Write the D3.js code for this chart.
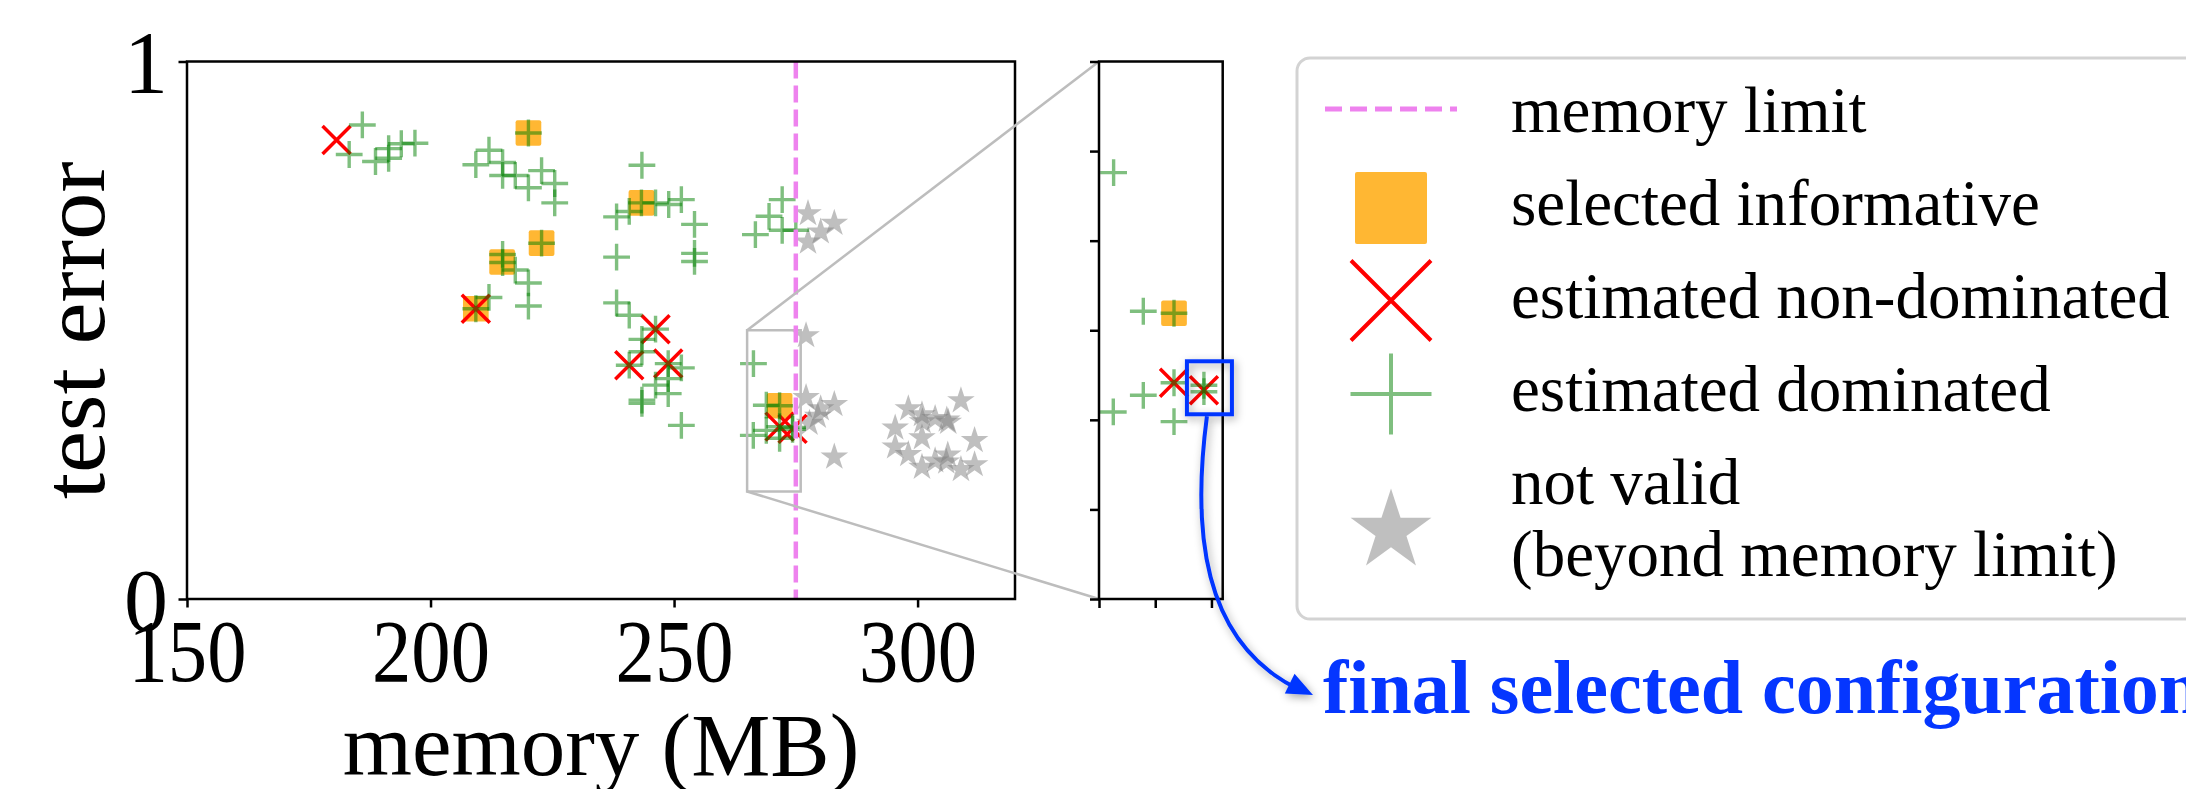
<!DOCTYPE html>
<html>
<head>
<meta charset="utf-8">
<script src="https://cdn.jsdelivr.net/npm/d3@7"></script>
<style>
  html, body { margin: 0; padding: 0; background: #fff; overflow: hidden; }
  svg { display: block; }
  text { font-family: "Liberation Serif", "Times New Roman", serif; fill: #000; }
</style>
</head>
<body>
<svg id="chart" width="2186" height="789"></svg>
<script>
// ---------------- data ----------------
const xTicks = [150, 200, 250, 300];
const yTicks = [0, 1];
const insetXTicks = [265, 270, 275];
const insetYTicks = [0.2, 0.25, 0.3, 0.35, 0.4, 0.45, 0.5];
const memDomain = [150, 320];
const errDomain = [0, 1];
const memoryLimit = 275;
const zoomMem = [265, 276];
const zoomErr = [0.2, 0.5];
const finalConfig = [274.33, 0.3165];

// [memory (MB), test error]
const informative = [
  [220.1, 0.867], [222.8, 0.662], [214.7, 0.627], [209.3, 0.540],
  [243.3, 0.737], [271.67, 0.3595]
];
const nonDominated = [
  [180.7, 0.854], [209.3, 0.540], [246.2, 0.502], [240.8, 0.435],
  [248.8, 0.438], [271.67, 0.3207], [274.33, 0.3165]
];
const dominated = [
  [186.0, 0.882], [183.3, 0.827], [188.7, 0.814], [191.4, 0.838], [191.4, 0.820],
  [194.0, 0.847], [196.8, 0.848],
  [220.1, 0.867], [209.3, 0.808], [212.0, 0.835], [214.8, 0.812], [214.8, 0.788],
  [217.4, 0.788], [220.1, 0.765], [222.8, 0.797], [225.5, 0.773], [225.5, 0.737],
  [222.8, 0.662], [214.8, 0.641], [214.8, 0.626], [217.4, 0.612], [220.1, 0.588],
  [220.1, 0.545], [209.3, 0.540], [212.0, 0.561],
  [243.4, 0.807], [243.3, 0.737], [238.2, 0.711], [240.8, 0.721], [246.2, 0.737],
  [248.9, 0.734], [251.5, 0.743], [254.2, 0.697], [254.2, 0.643], [254.2, 0.628],
  [238.2, 0.636],
  [238.2, 0.551], [240.8, 0.528], [246.2, 0.502], [243.4, 0.483], [240.8, 0.435],
  [243.4, 0.460], [248.8, 0.438], [251.5, 0.430], [248.8, 0.410], [248.8, 0.382],
  [246.2, 0.398], [243.4, 0.370], [243.4, 0.364], [251.5, 0.323],
  [272.2, 0.743], [269.5, 0.712], [266.7, 0.678], [272.2, 0.686], [275.0, 0.686],
  [266.3, 0.438],
  [266.27, 0.3044], [268.94, 0.3137], [268.94, 0.3606], [271.67, 0.3595],
  [271.67, 0.3207], [274.33, 0.3193], [274.33, 0.3157], [271.67, 0.299]
];
const notValid = [
  [277.5, 0.717], [282.9, 0.699], [280.1, 0.683], [277.5, 0.664], [277.1, 0.490],
  [277.1, 0.375], [280.1, 0.354], [282.9, 0.362], [277.8, 0.327], [279.5, 0.340],
  [282.9, 0.264],
  [298.1, 0.354], [300.9, 0.343], [303.6, 0.336], [306.3, 0.329], [306.0, 0.333],
  [308.9, 0.369], [295.4, 0.318], [300.9, 0.300], [295.4, 0.283], [298.1, 0.269],
  [311.7, 0.295], [300.9, 0.245], [303.6, 0.257], [306.2, 0.268], [308.9, 0.241],
  [311.7, 0.250], [305.9, 0.255], [301.0, 0.330]
];
const legendLabels = [
  ["memory limit"],
  ["selected informative"],
  ["estimated non-dominated"],
  ["estimated dominated"],
  ["not valid", "(beyond memory limit)"]
];
const xLabel = "memory (MB)";
const yLabel = "test error";
const calloutText = "final selected configuration";

// ---------------- styles ----------------
const C = {
  green: "rgba(0,128,0,0.5)",
  red: "#ff0000",
  orange: "rgba(255,165,0,0.8)",
  gray: "rgba(128,128,128,0.5)",
  violet: "#ee82ee",
  blue: "#0536ff",
  zoomLine: "#bdbdbd"
};

// ---------------- layout ----------------
const main = { left: 187, right: 1015, top: 61.5, bottom: 599 };
const inset = { left: 1099, right: 1222.7, top: 61.5, bottom: 599 };

const svg = d3.select("#chart");
const defs = svg.append("defs");

const shadow = defs.append("filter").attr("id", "shadow")
  .attr("x", "-50%").attr("y", "-50%").attr("width", "200%").attr("height", "200%");
shadow.append("feDropShadow").attr("dx", 2).attr("dy", 3)
  .attr("stdDeviation", 4).attr("flood-color", "#000").attr("flood-opacity", 0.35);

defs.append("clipPath").attr("id", "clipMain").append("rect")
  .attr("x", main.left).attr("y", main.top)
  .attr("width", main.right - main.left).attr("height", main.bottom - main.top);
defs.append("clipPath").attr("id", "clipInset").append("rect")
  .attr("x", inset.left).attr("y", inset.top)
  .attr("width", inset.right - inset.left).attr("height", inset.bottom - inset.top);

const x = d3.scaleLinear().domain(memDomain).range([main.left, main.right]);
const y = d3.scaleLinear().domain(errDomain).range([main.bottom, main.top]);
const xi = d3.scaleLinear().domain(zoomMem).range([inset.left, inset.right]);
const yi = d3.scaleLinear().domain(zoomErr).range([inset.bottom, inset.top]);

// marker shapes
function plusPath(h) { return `M${-h},0H${h}M0,${-h}V${h}`; }
function crossPath(h) { return `M${-h},${-h}L${h},${h}M${-h},${h}L${h},${-h}`; }
function starPath(R) {
  const r = R * 0.381966;
  const pts = [];
  for (let k = 0; k < 10; k++) {
    const a = -Math.PI / 2 + k * Math.PI / 5;
    const rr = k % 2 === 0 ? R : r;
    pts.push([rr * Math.cos(a), rr * Math.sin(a)]);
  }
  return "M" + pts.map(p => p[0].toFixed(2) + "," + p[1].toFixed(2)).join("L") + "Z";
}

function drawMarks(g, sx, sy) {
  g.append("g").selectAll("path").data(notValid).join("path")
    .attr("d", starPath(14.5))
    .attr("transform", d => `translate(${sx(d[0])},${sy(d[1])})`)
    .attr("fill", C.gray);
  const sq = 25.7;
  g.append("g").selectAll("rect").data(informative).join("rect")
    .attr("x", d => sx(d[0]) - sq / 2).attr("y", d => sy(d[1]) - sq / 2)
    .attr("width", sq).attr("height", sq).attr("rx", 2)
    .attr("fill", C.orange);
  g.append("g").selectAll("path").data(nonDominated).join("path")
    .attr("d", crossPath(14))
    .attr("transform", d => `translate(${sx(d[0])},${sy(d[1])})`)
    .attr("fill", "none").attr("stroke", C.red).attr("stroke-width", 3.5);
  g.append("g").selectAll("path").data(dominated).join("path")
    .attr("d", plusPath(13.4))
    .attr("transform", d => `translate(${sx(d[0])},${sy(d[1])})`)
    .attr("fill", "none").attr("stroke", C.green).attr("stroke-width", 3.4);
}

// ---------------- main axes ----------------
const gMain = svg.append("g");
const mainMarks = gMain.append("g").attr("clip-path", "url(#clipMain)");
drawMarks(mainMarks, x, y);

// zoom indicator and connectors
const zr = { x0: x(zoomMem[0]), x1: x(zoomMem[1]), y0: y(zoomErr[1]), y1: y(zoomErr[0]) };
svg.append("line").attr("x1", zr.x0).attr("y1", zr.y0).attr("x2", inset.left).attr("y2", inset.top)
  .attr("stroke", C.zoomLine).attr("stroke-width", 2.5);
svg.append("line").attr("x1", zr.x0).attr("y1", zr.y1).attr("x2", inset.left).attr("y2", inset.bottom)
  .attr("stroke", C.zoomLine).attr("stroke-width", 2.5);
gMain.append("rect").attr("x", zr.x0).attr("y", zr.y0)
  .attr("width", zr.x1 - zr.x0).attr("height", zr.y1 - zr.y0)
  .attr("fill", "none").attr("stroke", C.zoomLine).attr("stroke-width", 2.5);

// memory limit
gMain.append("line")
  .attr("x1", x(memoryLimit)).attr("x2", x(memoryLimit))
  .attr("y1", main.top).attr("y2", main.bottom)
  .attr("stroke", C.violet).attr("stroke-width", 4.5).attr("stroke-dasharray", "17,7");

// frame
gMain.append("rect").attr("x", main.left).attr("y", main.top)
  .attr("width", main.right - main.left).attr("height", main.bottom - main.top)
  .attr("fill", "none").attr("stroke", "#000").attr("stroke-width", 2.5);

// axes
const xAxis = gMain.append("g").attr("transform", `translate(0,${main.bottom})`)
  .call(d3.axisBottom(x).tickValues(xTicks).tickFormat(d3.format("d")).tickSize(8.5).tickSizeOuter(0));
const yAxis = gMain.append("g").attr("transform", `translate(${main.left},0)`)
  .call(d3.axisLeft(y).tickValues(yTicks).tickFormat(d3.format("d")).tickSize(8.5).tickSizeOuter(0));
[xAxis, yAxis].forEach(a => {
  a.select(".domain").remove();
  a.selectAll(".tick line").attr("stroke", "#000").attr("stroke-width", 2.5);
  a.selectAll("text").attr("font-family", '"Liberation Serif", serif').attr("fill", "#000");
});
xAxis.selectAll("text").attr("dy", null).attr("y", 82).attr("font-size", 88)
  .attr("textLength", 118).attr("lengthAdjust", "spacingAndGlyphs");
yAxis.selectAll("text").attr("dy", null).attr("x", -19).attr("y", 30).attr("font-size", 88)
  .attr("text-anchor", "end");

svg.append("text").attr("x", (main.left + main.right) / 2).attr("y", 775)
  .attr("text-anchor", "middle").attr("font-size", 89).text(xLabel);
svg.append("text").attr("transform", `translate(104,${(main.top + main.bottom) / 2}) rotate(-90)`)
  .attr("text-anchor", "middle").attr("font-size", 89)
  .attr("textLength", 338).attr("lengthAdjust", "spacingAndGlyphs").text(yLabel);

// ---------------- inset axes ----------------
const gInset = svg.append("g");
const insetMarks = gInset.append("g").attr("clip-path", "url(#clipInset)");
drawMarks(insetMarks, xi, yi);
gInset.append("rect").attr("x", inset.left).attr("y", inset.top)
  .attr("width", inset.right - inset.left).attr("height", inset.bottom - inset.top)
  .attr("fill", "none").attr("stroke", "#000").attr("stroke-width", 2.5);
const xiAxis = gInset.append("g").attr("transform", `translate(0,${inset.bottom})`)
  .call(d3.axisBottom(xi).tickValues(insetXTicks).tickFormat("").tickSize(9).tickSizeOuter(0));
const yiAxis = gInset.append("g").attr("transform", `translate(${inset.left},0)`)
  .call(d3.axisLeft(yi).tickValues(insetYTicks).tickFormat("").tickSize(9).tickSizeOuter(0));
[xiAxis, yiAxis].forEach(a => {
  a.select(".domain").remove();
  a.selectAll(".tick line").attr("stroke", "#000").attr("stroke-width", 2.5);
});

// ---------------- callout ----------------
const fx = xi(finalConfig[0]), fy = yi(finalConfig[1]);
svg.append("rect").attr("x", fx - 17).attr("y", fy - 29).attr("width", 45).attr("height", 53)
  .attr("fill", "none").attr("stroke", C.blue).attr("stroke-width", 4).attr("filter", "url(#shadow)");

const a0 = [fx + 3, fy + 26], c1 = [fx - 12, fy + 140], c2 = [fx - 2, fy + 250], a1 = [1296, 688];
const tip = [1313, 695];
const gArrow = svg.append("g").attr("filter", "url(#shadow)");
gArrow.append("path")
  .attr("d", `M${a0}C${c1} ${c2} ${a1}`)
  .attr("fill", "none").attr("stroke", C.blue).attr("stroke-width", 4);
{
  const dx = tip[0] - c2[0], dy = tip[1] - c2[1];
  const L = Math.hypot(dx, dy), ux = dx / L, uy = dy / L;
  const hl = 26, hw = 11;
  const bx = tip[0] - ux * hl, by = tip[1] - uy * hl;
  gArrow.append("path")
    .attr("d", `M${tip}L${bx - uy * hw},${by + ux * hw}L${bx + uy * hw},${by - ux * hw}Z`)
    .attr("fill", C.blue);
}
svg.append("text").attr("x", 1323).attr("y", 713)
  .attr("font-size", 76).attr("font-weight", "bold").attr("fill", C.blue)
  .style("fill", C.blue).text(calloutText);

// ---------------- legend ----------------
const lg = svg.append("g");
lg.append("rect").attr("x", 1297).attr("y", 58).attr("width", 1000).attr("height", 561)
  .attr("rx", 13).attr("fill", "#fff").attr("stroke", "#d3d3d3").attr("stroke-width", 3);
const symX = 1391, textX = 1511;
const symY = [109, 208, 300.5, 394, 527];
const baseY = [132, 225, 317.5, 410.5, [504, 576]];
lg.append("line").attr("x1", 1325).attr("x2", 1457).attr("y1", symY[0]).attr("y2", symY[0])
  .attr("stroke", C.violet).attr("stroke-width", 5).attr("stroke-dasharray", "17,8");
lg.append("rect").attr("x", symX - 36).attr("y", symY[1] - 36).attr("width", 72).attr("height", 72)
  .attr("rx", 2).attr("fill", C.orange);
lg.append("path").attr("d", crossPath(40)).attr("transform", `translate(${symX},${symY[2]})`)
  .attr("stroke", C.red).attr("stroke-width", 4).attr("fill", "none");
lg.append("path").attr("d", plusPath(40.5)).attr("transform", `translate(${symX},${symY[3]})`)
  .attr("stroke", C.green).attr("stroke-width", 4).attr("fill", "none");
lg.append("path").attr("d", starPath(42.5)).attr("transform", `translate(${symX},${symY[4] + 4})`)
  .attr("fill", C.gray);
legendLabels.forEach((lines, i) => {
  const ys = Array.isArray(baseY[i]) ? baseY[i] : [baseY[i]];
  lines.forEach((t, j) => {
    lg.append("text").attr("x", textX).attr("y", ys[j]).attr("font-size", 65).text(t);
  });
});
</script>
</body>
</html>
